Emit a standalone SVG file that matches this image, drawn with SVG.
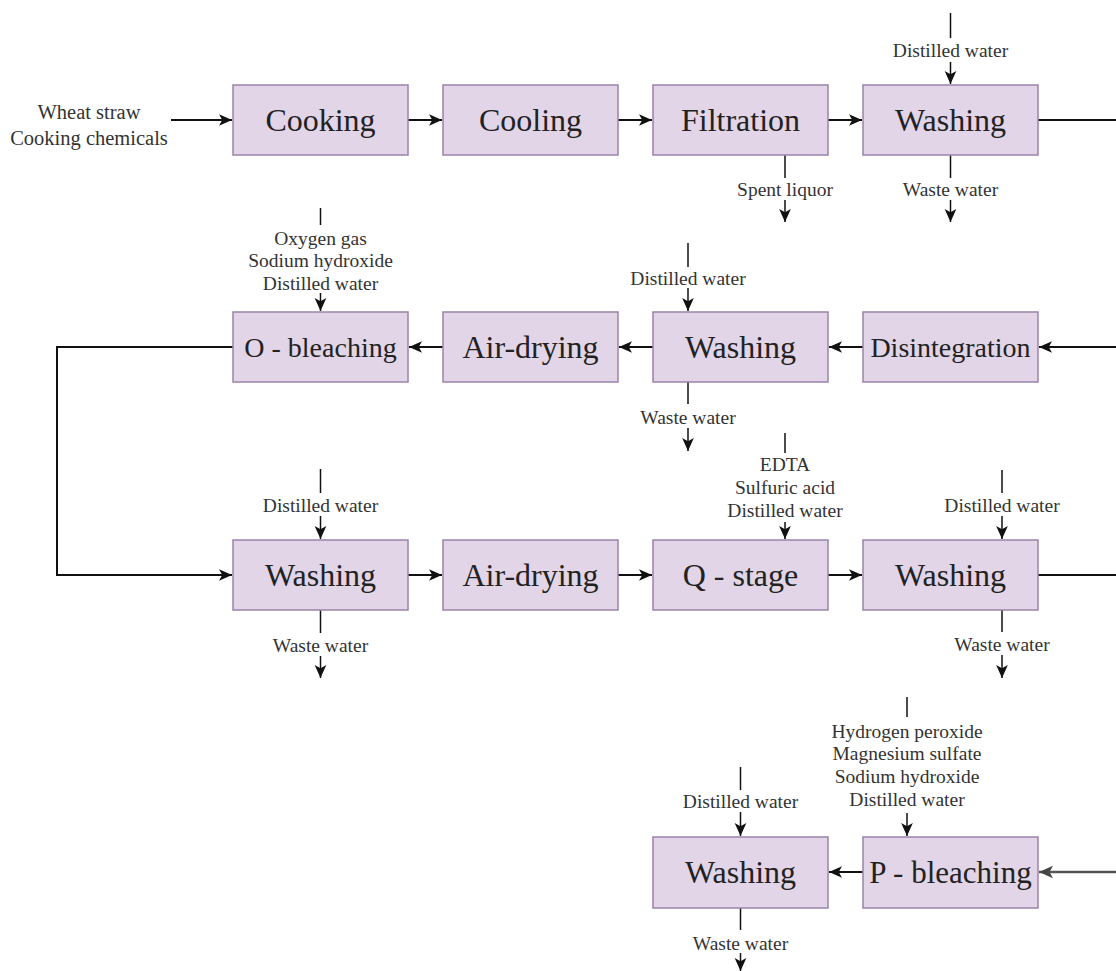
<svg xmlns="http://www.w3.org/2000/svg" width="1116" height="971" viewBox="0 0 1116 971">
<style>
.box{fill:#e1d5e7;stroke:#9a83a8;stroke-width:1.5}
.lbl{font-family:"Liberation Serif","Times New Roman",serif;font-size:32px;fill:#222;text-anchor:middle;dominant-baseline:central}
.sm{font-family:"Liberation Serif","Times New Roman",serif;font-size:19.5px;fill:#333;text-anchor:middle;dominant-baseline:central}
.ln{fill:none;stroke:#111;stroke-width:2}
.thin{fill:none;stroke:#111;stroke-width:1.5}
</style>
<defs>
<marker id="ah" viewBox="0 0 10 10" refX="10" refY="5" markerWidth="13" markerHeight="13" markerUnits="userSpaceOnUse" orient="auto">
<path d="M0,0.5 L10,5 L0,9.5 L2.5,5 z" fill="#111"/>
</marker>
<marker id="ahg" viewBox="0 0 10 10" refX="10" refY="5" markerWidth="14" markerHeight="14" markerUnits="userSpaceOnUse" orient="auto">
<path d="M0,0.5 L10,5 L0,9.5 L2.5,5 z" fill="#444"/>
</marker>
</defs>
<rect width="1116" height="971" fill="#fff"/>

<g id="connectors">
<!-- row 1 -->
<path class="ln" d="M171,120 H232" marker-end="url(#ah)"/>
<path class="ln" d="M408,120 H442" marker-end="url(#ah)"/>
<path class="ln" d="M618,120 H652" marker-end="url(#ah)"/>
<path class="ln" d="M828,120 H862" marker-end="url(#ah)"/>
<path class="ln" d="M1038,120 H1116"/>
<path class="thin" d="M950.5,13 V38"/>
<path class="thin" d="M950.5,62 V84" marker-end="url(#ah)"/>
<path class="thin" d="M785,155 V178"/>
<path class="thin" d="M785,200 V222" marker-end="url(#ah)"/>
<path class="thin" d="M950.5,155 V178"/>
<path class="thin" d="M950.5,200 V222" marker-end="url(#ah)"/>
<!-- row 2 -->
<path class="ln" d="M1116,347 H1039" marker-end="url(#ah)"/>
<path class="ln" d="M863,347 H829" marker-end="url(#ah)"/>
<path class="ln" d="M653,347 H619" marker-end="url(#ah)"/>
<path class="ln" d="M443,347 H409" marker-end="url(#ah)"/>
<path class="ln" d="M233,347 H57 V575 H232" marker-end="url(#ah)"/>
<path class="thin" d="M320.5,208 V225"/>
<path class="thin" d="M320.5,293 V311" marker-end="url(#ah)"/>
<path class="thin" d="M688,243 V267"/>
<path class="thin" d="M688,288 V311" marker-end="url(#ah)"/>
<path class="thin" d="M688,382 V404"/>
<path class="thin" d="M688,428 V451" marker-end="url(#ah)"/>
<!-- row 3 -->
<path class="ln" d="M408,575 H442" marker-end="url(#ah)"/>
<path class="ln" d="M618,575 H652" marker-end="url(#ah)"/>
<path class="ln" d="M828,575 H862" marker-end="url(#ah)"/>
<path class="ln" d="M1038,575 H1116"/>
<path class="thin" d="M320.5,469 V493"/>
<path class="thin" d="M320.5,516 V539" marker-end="url(#ah)"/>
<path class="thin" d="M320.5,610 V633"/>
<path class="thin" d="M320.5,656 V678" marker-end="url(#ah)"/>
<path class="thin" d="M785,433 V453"/>
<path class="thin" d="M785,522 V539" marker-end="url(#ah)"/>
<path class="thin" d="M1002,470 V493"/>
<path class="thin" d="M1002,516 V539" marker-end="url(#ah)"/>
<path class="thin" d="M1002,610 V632"/>
<path class="thin" d="M1002,655 V678" marker-end="url(#ah)"/>
<!-- row 4 -->
<path d="M1116,872 H1039" fill="none" stroke="#555" stroke-width="2.5" marker-end="url(#ahg)"/>
<path class="ln" d="M863,872 H829" marker-end="url(#ah)"/>
<path class="thin" d="M907,697 V717"/>
<path class="thin" d="M907,813 V836" marker-end="url(#ah)"/>
<path class="thin" d="M740.5,767 V790"/>
<path class="thin" d="M740.5,812 V836" marker-end="url(#ah)"/>
<path class="thin" d="M740.5,908 V930"/>
<path class="thin" d="M740.5,953 V971" marker-end="url(#ah)"/>
</g>

<g id="inputs">
<text class="sm" x="89" y="112" style="font-size:20.5px">Wheat straw</text>
<text class="sm" x="89" y="138" style="font-size:20.5px">Cooking chemicals</text>
<text class="sm" x="950.5" y="50">Distilled water</text>
<text class="sm" x="785" y="189">Spent liquor</text>
<text class="sm" x="950.5" y="189">Waste water</text>
<text class="sm" x="320.5" y="238">Oxygen gas</text>
<text class="sm" x="320.5" y="260.5">Sodium hydroxide</text>
<text class="sm" x="320.5" y="283">Distilled water</text>
<text class="sm" x="688" y="278">Distilled water</text>
<text class="sm" x="688" y="417">Waste water</text>
<text class="sm" x="320.5" y="505">Distilled water</text>
<text class="sm" x="320.5" y="645">Waste water</text>
<text class="sm" x="785" y="464">EDTA</text>
<text class="sm" x="785" y="487">Sulfuric acid</text>
<text class="sm" x="785" y="510">Distilled water</text>
<text class="sm" x="1002" y="505">Distilled water</text>
<text class="sm" x="1002" y="644">Waste water</text>
<text class="sm" x="907" y="731">Hydrogen peroxide</text>
<text class="sm" x="907" y="753">Magnesium sulfate</text>
<text class="sm" x="907" y="776">Sodium hydroxide</text>
<text class="sm" x="907" y="799">Distilled water</text>
<text class="sm" x="740.5" y="801">Distilled water</text>
<text class="sm" x="740.5" y="943">Waste water</text>
</g>

<g id="cooking"><rect class="box" x="233" y="85" width="175" height="70"/><text class="lbl" x="320.5" y="120">Cooking</text></g>
<g id="cooling"><rect class="box" x="443" y="85" width="175" height="70"/><text class="lbl" x="530.5" y="120">Cooling</text></g>
<g id="filtration"><rect class="box" x="653" y="85" width="175" height="70"/><text class="lbl" x="740.5" y="120">Filtration</text></g>
<g id="washing1"><rect class="box" x="863" y="85" width="175" height="70"/><text class="lbl" x="950.5" y="120">Washing</text></g>

<g id="o-bleaching"><rect class="box" x="233" y="312" width="175" height="70"/><text class="lbl" x="320.5" y="347" style="font-size:28px">O - bleaching</text></g>
<g id="air-drying1"><rect class="box" x="443" y="312" width="175" height="70"/><text class="lbl" x="530.5" y="347">Air-drying</text></g>
<g id="washing2"><rect class="box" x="653" y="312" width="175" height="70"/><text class="lbl" x="740.5" y="347">Washing</text></g>
<g id="disintegration"><rect class="box" x="863" y="312" width="175" height="70"/><text class="lbl" x="950.5" y="347" style="font-size:28px">Disintegration</text></g>

<g id="washing3"><rect class="box" x="233" y="540" width="175" height="70"/><text class="lbl" x="320.5" y="575">Washing</text></g>
<g id="air-drying2"><rect class="box" x="443" y="540" width="175" height="70"/><text class="lbl" x="530.5" y="575">Air-drying</text></g>
<g id="q-stage"><rect class="box" x="653" y="540" width="175" height="70"/><text class="lbl" x="740.5" y="575">Q - stage</text></g>
<g id="washing4"><rect class="box" x="863" y="540" width="175" height="70"/><text class="lbl" x="950.5" y="575">Washing</text></g>

<g id="washing5"><rect class="box" x="653" y="837" width="175" height="71"/><text class="lbl" x="740.5" y="872">Washing</text></g>
<g id="p-bleaching"><rect class="box" x="863" y="837" width="175" height="71"/><text class="lbl" x="950.5" y="872" style="font-size:31px">P - bleaching</text></g>
</svg>
